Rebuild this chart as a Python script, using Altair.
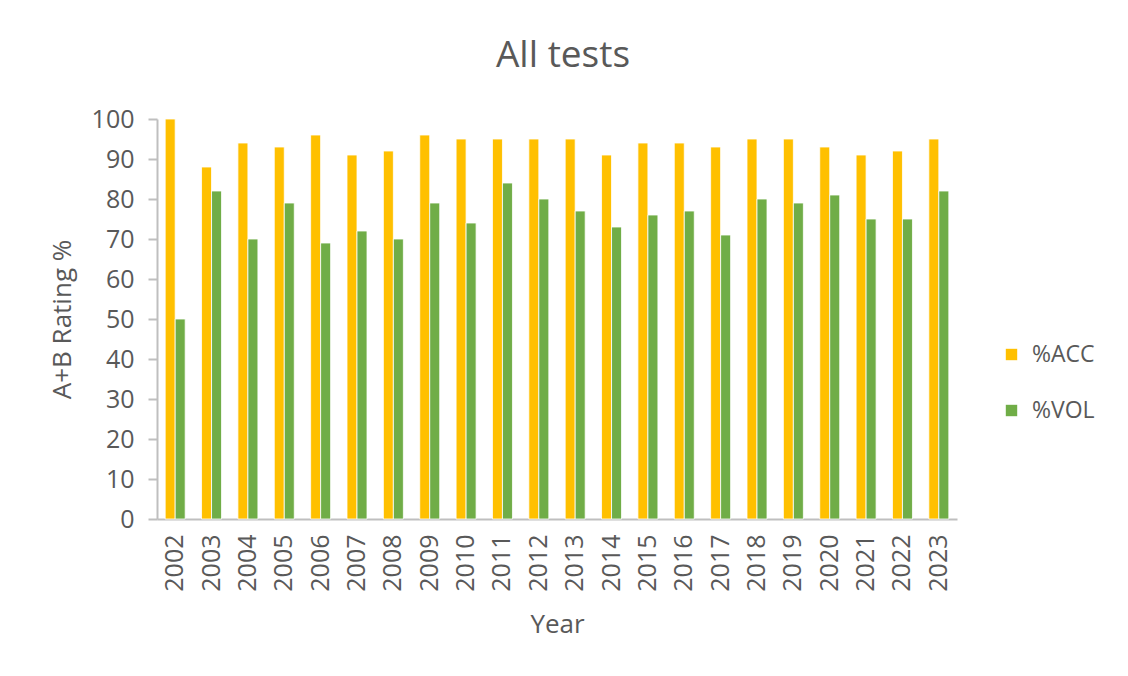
import altair as alt
import pandas as pd

years = [str(y) for y in range(2002, 2024)]
acc = [100, 88, 94, 93, 96, 91, 92, 96, 95, 95, 95, 95, 91, 94, 94, 93, 95, 95, 93, 91, 92, 95]
vol = [50, 82, 70, 79, 69, 72, 70, 79, 74, 84, 80, 77, 73, 76, 77, 71, 80, 79, 81, 75, 75, 82]
series = ["%ACC", "%VOL"]
colors = ["#FFC000", "#70AD47"]

rows = []
for i, y in enumerate(years):
    rows.append({"Year": y, "series": series[0], "value": acc[i]})
    rows.append({"Year": y, "series": series[1], "value": vol[i]})
df = pd.DataFrame(rows)

FONT = "Open Sans"
TXT = "#595959"
AX = "#BFBFBF"

chart = alt.Chart(df).mark_bar(stroke="white", strokeWidth=0.8).encode(
    x=alt.X("Year:N", sort=years,
            scale=alt.Scale(paddingInner=0.45, paddingOuter=0.225),
            axis=alt.Axis(title="Year", labelAngle=-90, ticks=False, domainColor=AX,
                          domainWidth=2, labelPadding=15, titlePadding=20,
                          labelFontSize=25, titleFontSize=26, labelColor=TXT,
                          titleColor=TXT, labelFont=FONT, titleFont=FONT,
                          titleFontWeight="normal")),
    xOffset=alt.XOffset("series:N", sort=series, scale=alt.Scale(paddingInner=0, paddingOuter=0)),
    y=alt.Y("value:Q", scale=alt.Scale(domain=[0, 100]),
            axis=alt.Axis(title="A+B Rating %", values=list(range(0, 101, 10)), grid=False,
                          domainColor=AX, domainWidth=2, tickColor=AX, tickWidth=2,
                          tickSize=9, labelPadding=14, titlePadding=16,
                          labelFontSize=25, titleFontSize=26, labelColor=TXT,
                          titleColor=TXT, labelFont=FONT, titleFont=FONT,
                          titleFontWeight="normal")),
    color=alt.Color("series:N", sort=series,
                    scale=alt.Scale(domain=series, range=colors),
                    legend=alt.Legend(title=None, orient="none", legendX=843, legendY=224,
                                      symbolType="square", symbolSize=130,
                                      symbolStrokeWidth=0, labelFontSize=23,
                                      labelColor=TXT, labelFont=FONT, rowPadding=32,
                                      labelOffset=9)),
).properties(
    width=800,
    height=400,
    title=alt.TitleParams("All tests", fontSize=37, font=FONT, color=TXT,
                          fontWeight="normal", anchor="middle", offset=32, dx=6),
    autosize=alt.AutoSizeParams(type="none"),
    padding={"left": 149, "top": 111, "right": 163, "bottom": 149},
).configure_view(stroke=None)

chart.save("out.html", embed_options={"renderer": "svg", "actions": False})
